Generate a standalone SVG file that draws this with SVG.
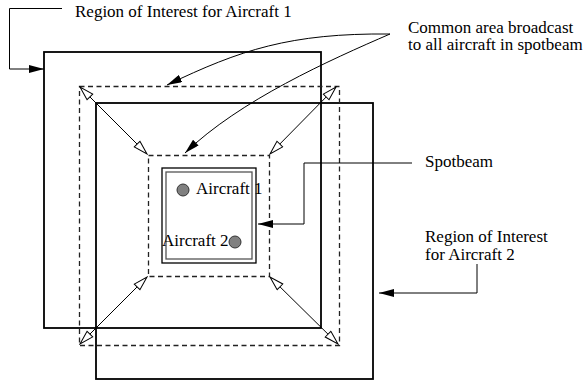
<svg xmlns="http://www.w3.org/2000/svg" width="587" height="381" viewBox="0 0 587 381">
<defs>
<style>
.t{font-family:'Liberation Serif','Times New Roman',Times,serif;font-size:17px;fill:#000}
.roi{fill:none;stroke:#000;stroke-width:1.8}
.dash{fill:none;stroke:#222;stroke-width:1.3;stroke-dasharray:5,3.5}
.lead{fill:none;stroke:#000;stroke-width:1}
.diag{fill:none;stroke:#000;stroke-width:1;marker-start:url(#open);marker-end:url(#open)}
.plane{fill:#808080;stroke:#333;stroke-width:1}
</style>
<marker id="fill" viewBox="0 0 15 8" refX="15" refY="4" markerWidth="15" markerHeight="8" markerUnits="userSpaceOnUse" orient="auto">
<path d="M0,0 L15,4 L0,8 Z" fill="#000"/>
</marker>
<marker id="open" viewBox="0 0 16 10" refX="15" refY="5" markerWidth="16" markerHeight="10" markerUnits="userSpaceOnUse" orient="auto-start-reverse">
<path d="M1,1 L15,5 L1,9 Z" fill="#fff" stroke="#000" stroke-width="1"/>
</marker>
</defs>

<g id="roi1"><rect class="roi" x="44" y="52" width="277" height="276"/></g>
<g id="roi2"><rect class="roi" x="96" y="103" width="277" height="276"/></g>
<g id="common-outer"><rect class="dash" x="79.5" y="86.5" width="260" height="259"/></g>
<g id="common-inner"><rect class="dash" x="148.5" y="155.5" width="121" height="121"/></g>
<g id="spotbeam">
<rect x="162" y="168" width="94" height="95" fill="none" stroke="#000" stroke-width="1.3"/>
<rect x="166" y="172" width="86" height="87" fill="none" stroke="#555" stroke-width="1.3"/>
</g>
<g id="aircraft1"><circle class="plane" cx="183" cy="190" r="6"/><text class="t" x="196" y="194">Aircraft 1</text></g>
<g id="aircraft2"><circle class="plane" cx="235" cy="242" r="6"/><text class="t" x="162" y="246">Aircraft 2</text></g>

<g id="label-roi1"><text class="t" x="75" y="17">Region of Interest for Aircraft 1</text></g>
<g id="label-common"><text class="t" x="408" y="33">Common area broadcast</text><text class="t" x="408" y="50">to all aircraft in spotbeam</text></g>
<g id="label-spotbeam"><text class="t" x="425" y="167">Spotbeam</text></g>
<g id="label-roi2"><text class="t" x="425" y="242">Region of Interest</text><text class="t" x="425" y="260">for Aircraft 2</text></g>

<g id="connectors">
<path class="lead" d="M62,8.5 H9.5 V69 H44" marker-end="url(#fill)"/>
<path class="lead" d="M390,34 C290,33 240,50 167,85" marker-end="url(#fill)"/>
<path class="lead" d="M390,34 C330,60 240,100 185,153" marker-end="url(#fill)"/>
<path class="lead" d="M412,163 H304 V224 H258" marker-end="url(#fill)"/>
<path class="lead" d="M477,264 V293 H379" marker-end="url(#fill)"/>
<line class="diag" x1="80" y1="87" x2="147" y2="154"/>
<line class="diag" x1="336" y1="87" x2="270" y2="154"/>
<line class="diag" x1="80" y1="344" x2="147" y2="277"/>
<line class="diag" x1="338" y1="344" x2="270" y2="277"/>
</g>
</svg>
